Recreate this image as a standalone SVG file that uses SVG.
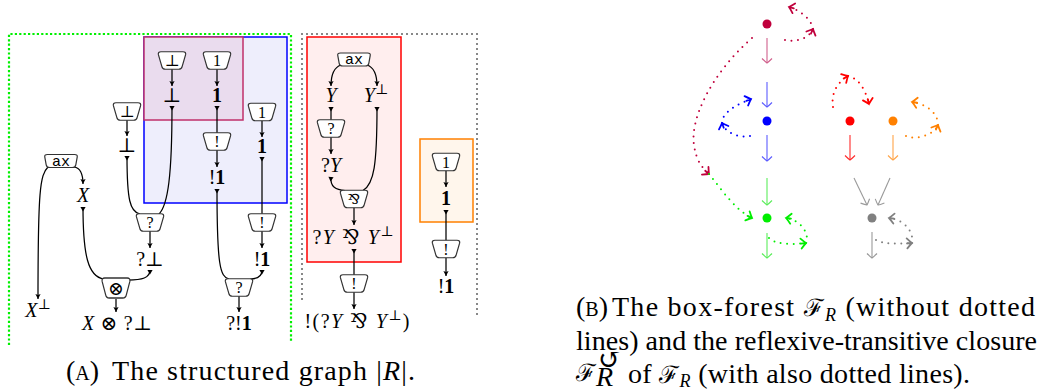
<svg xmlns="http://www.w3.org/2000/svg" width="1044" height="391" viewBox="0 0 1044 391">
<style>
.lab{font-family:"Liberation Serif","DejaVu Serif",serif;font-size:20px;text-anchor:middle;fill:#000}
.it{font-style:italic}
.bf{font-weight:bold}
.cell{fill:#fff;stroke:#333;stroke-width:1.2}
.in{font-family:"Liberation Serif","DejaVu Serif",serif;font-size:16px;text-anchor:middle}
.tt{font-family:"Liberation Mono","DejaVu Sans Mono",monospace;font-size:15px;text-anchor:middle}
.e{fill:none;stroke:#000;stroke-width:1.25}
.a{marker-end:url(#ah)}
.t{marker-start:url(#tl)}
.cap{font-family:"Liberation Serif","DejaVu Serif",serif;font-size:28px;fill:#000}
.sc{font-size:20px}
.fr{font-size:24px}
.dt{fill:none;stroke-width:2;stroke-linecap:round;stroke-dasharray:0 6.5}
.sl{fill:none;stroke-width:1.1}
</style>
<defs>
<path id="cellp" d="M-11,-8.75 H11 Q14.2,-8.75 13.6,-5.8 L10.2,5.8 Q9.6,8.75 6.6,8.75 H-6.6 Q-9.6,8.75 -10.2,5.8 L-13.6,-5.8 Q-14.2,-8.75 -11,-8.75 Z"/>
<path id="axp" d="M-13.5,-6.5 H13.5 Q16.8,-6.5 16.2,-3.8 L14.8,3.8 Q14.2,6.5 11.2,6.5 H-11.2 Q-14.2,6.5 -14.8,3.8 L-16.2,-3.8 Q-16.8,-6.5 -13.5,-6.5 Z"/>
<marker id="ah" viewBox="-6 -3 7 6" refX="0" refY="0" markerWidth="7" markerHeight="6" markerUnits="userSpaceOnUse" orient="auto"><path d="M-5,-2.6 L0,0 L-5,2.6 L-4,0 Z" fill="#000"/></marker>
<marker id="tl" viewBox="-1 -3 7 6" refX="0" refY="0" markerWidth="7" markerHeight="6" markerUnits="userSpaceOnUse" orient="auto"><path d="M0,-2.6 L4.5,0 L0,2.6 Z" fill="#000"/></marker>
<marker id="s-cr" viewBox="-6 -6 7 12" refX="0" refY="0" markerWidth="7" markerHeight="12" markerUnits="userSpaceOnUse" orient="auto"><path d="M-4.5,-5 Q-1,-1.5 0,0 Q-1,1.5 -4.5,5" fill="none" stroke="#d0608c" stroke-width="1.1"/></marker>
<marker id="s-bl" viewBox="-6 -6 7 12" refX="0" refY="0" markerWidth="7" markerHeight="12" markerUnits="userSpaceOnUse" orient="auto"><path d="M-4.5,-5 Q-1,-1.5 0,0 Q-1,1.5 -4.5,5" fill="none" stroke="#5c5cff" stroke-width="1.1"/></marker>
<marker id="s-gr" viewBox="-6 -6 7 12" refX="0" refY="0" markerWidth="7" markerHeight="12" markerUnits="userSpaceOnUse" orient="auto"><path d="M-4.5,-5 Q-1,-1.5 0,0 Q-1,1.5 -4.5,5" fill="none" stroke="#5ced5c" stroke-width="1.1"/></marker>
<marker id="s-rd" viewBox="-6 -6 7 12" refX="0" refY="0" markerWidth="7" markerHeight="12" markerUnits="userSpaceOnUse" orient="auto"><path d="M-4.5,-5 Q-1,-1.5 0,0 Q-1,1.5 -4.5,5" fill="none" stroke="#ff2a2a" stroke-width="1.1"/></marker>
<marker id="s-or" viewBox="-6 -6 7 12" refX="0" refY="0" markerWidth="7" markerHeight="12" markerUnits="userSpaceOnUse" orient="auto"><path d="M-4.5,-5 Q-1,-1.5 0,0 Q-1,1.5 -4.5,5" fill="none" stroke="#ffa448" stroke-width="1.1"/></marker>
<marker id="s-gy" viewBox="-6 -6 7 12" refX="0" refY="0" markerWidth="7" markerHeight="12" markerUnits="userSpaceOnUse" orient="auto"><path d="M-4.5,-5 Q-1,-1.5 0,0 Q-1,1.5 -4.5,5" fill="none" stroke="#9a9a9a" stroke-width="1.1"/></marker>
<marker id="d-cr" viewBox="-8 -7 10 14" refX="0" refY="0" markerWidth="10" markerHeight="14" markerUnits="userSpaceOnUse" orient="auto"><path d="M0,0 L-5,0 M-5,-5 Q-1.5,-1.2 0,0 Q-1.5,1.2 -5,5" fill="none" stroke="#c0003c" stroke-width="1.8" stroke-linecap="round"/></marker>
<marker id="d-bl" viewBox="-8 -7 10 14" refX="0" refY="0" markerWidth="10" markerHeight="14" markerUnits="userSpaceOnUse" orient="auto"><path d="M0,0 L-5,0 M-5,-5 Q-1.5,-1.2 0,0 Q-1.5,1.2 -5,5" fill="none" stroke="#0000ff" stroke-width="1.8" stroke-linecap="round"/></marker>
<marker id="d-gr" viewBox="-8 -7 10 14" refX="0" refY="0" markerWidth="10" markerHeight="14" markerUnits="userSpaceOnUse" orient="auto"><path d="M0,0 L-5,0 M-5,-5 Q-1.5,-1.2 0,0 Q-1.5,1.2 -5,5" fill="none" stroke="#00ee00" stroke-width="1.8" stroke-linecap="round"/></marker>
<marker id="d-rd" viewBox="-8 -7 10 14" refX="0" refY="0" markerWidth="10" markerHeight="14" markerUnits="userSpaceOnUse" orient="auto"><path d="M0,0 L-5,0 M-5,-5 Q-1.5,-1.2 0,0 Q-1.5,1.2 -5,5" fill="none" stroke="#ff0000" stroke-width="1.8" stroke-linecap="round"/></marker>
<marker id="d-or" viewBox="-8 -7 10 14" refX="0" refY="0" markerWidth="10" markerHeight="14" markerUnits="userSpaceOnUse" orient="auto"><path d="M0,0 L-5,0 M-5,-5 Q-1.5,-1.2 0,0 Q-1.5,1.2 -5,5" fill="none" stroke="#ff8000" stroke-width="1.8" stroke-linecap="round"/></marker>
<marker id="d-gy" viewBox="-8 -7 10 14" refX="0" refY="0" markerWidth="10" markerHeight="14" markerUnits="userSpaceOnUse" orient="auto"><path d="M0,0 L-5,0 M-5,-5 Q-1.5,-1.2 0,0 Q-1.5,1.2 -5,5" fill="none" stroke="#808080" stroke-width="1.8" stroke-linecap="round"/></marker>
</defs>
<rect width="1044" height="391" fill="#fff"/>

<!-- boxes -->
<g id="box-green"><path d="M9,345 V34 H291 V343" fill="none" stroke="#00f000" stroke-width="2.2" stroke-dasharray="2.2 2.2"/></g>
<g id="box-gray"><path d="M302,300 V34 H477 V315" fill="none" stroke="#888" stroke-width="2" stroke-dasharray="2 3"/></g>
<g id="box-blue"><rect x="144" y="37" width="143" height="166" fill="#eeeefc" stroke="#0000ff" stroke-width="1.5"/></g>
<g id="box-purple"><rect x="144" y="37" width="99" height="83" fill="#eadcee" stroke="#c0306a" stroke-width="1.5"/></g>
<g id="box-red"><rect x="307" y="37" width="94" height="225" fill="#ffeeee" stroke="#ff0000" stroke-width="1.5"/></g>
<g id="box-orange"><rect x="420" y="139" width="53" height="83" fill="#fff6ec" stroke="#ff8000" stroke-width="1.5"/></g>

<!-- connectors -->
<g id="connectors">
<path class="e a" d="M48,167 C40,175 38,190 38,299"/>
<path class="e a" d="M74,167 C81,168 83,174 83,184"/>
<path class="e t" d="M83,207 C83,255 88,277 104,279"/>
<path class="e t" d="M150,270 C150,278 142,280 128,280"/>
<path class="e a" d="M116,299 L116,312"/>
<path class="e a" d="M127,120 L127,136"/>
<path class="e t" d="M127,156 C127,200 130,212 140,214"/>
<path class="e t" d="M172,106 C172,175 168,205 159,214"/>
<path class="e a" d="M150,231 L150,248"/>
<path class="e a" d="M172,69 L172,86"/>
<path class="e a" d="M217,69 L217,86"/>
<path class="e t" d="M217,106 L217,133"/>
<path class="e a" d="M217,150 L217,167"/>
<path class="e t" d="M217,189 C217,265 220,277 229,279"/>
<path class="e a" d="M262,120.5 L262,137"/>
<path class="e t" d="M262,157 L262,214"/>
<path class="e a" d="M262,231 L262,248"/>
<path class="e t" d="M262,270 C262,277 257,279 250,279"/>
<path class="e a" d="M239,296 L239,312"/>
<path class="e a" d="M341,65 C335,67 331,73 331,86"/>
<path class="e a" d="M367,65 C373,67 377,73 377,86"/>
<path class="e t" d="M331,107 L331,120"/>
<path class="e a" d="M331,137 L331,154"/>
<path class="e t" d="M377,107 C377,165 374,184 363,190.5"/>
<path class="e t" d="M331,177 C330,187 336,190 345,190.5"/>
<path class="e a" d="M354,207.5 L354,225"/>
<path class="e t" d="M354,249 L354,275"/>
<path class="e a" d="M354,292 L354,309"/>
<path class="e a" d="M446,170.5 L446,187"/>
<path class="e t" d="M446,210 L446,240.5"/>
<path class="e a" d="M446,257.5 L446,276"/>
</g>

<!-- cells -->
<g id="n-axL"><use href="#axp" class="cell" x="61" y="161"/><text class="tt" x="61" y="165.5">ax</text></g>
<g id="n-botL"><use href="#cellp" class="cell" x="127" y="111.5"/><text class="in" x="127" y="117">⊥</text></g>
<g id="n-botP"><use href="#cellp" class="cell" x="172" y="60.5"/><text class="in" x="172" y="66">⊥</text></g>
<g id="n-oneP"><use href="#cellp" class="cell" x="217" y="60.5"/><text class="in" x="217" y="66">1</text></g>
<g id="n-bangB"><use href="#cellp" class="cell" x="217" y="141.5"/><text class="in" x="217" y="147">!</text></g>
<g id="n-oneB"><use href="#cellp" class="cell" x="262" y="112"/><text class="in" x="262" y="117.5">1</text></g>
<g id="n-whyL"><use href="#cellp" class="cell" x="150" y="222.5"/><text class="in" x="150" y="228">?</text></g>
<g id="n-tensor"><use href="#cellp" class="cell" transform="translate(116,288) scale(1.02,1.14)"/><text class="in" x="116" y="294.5" style="font-size:19px">⊗</text></g>
<g id="n-bangR"><use href="#cellp" class="cell" x="262" y="222.5"/><text class="in" x="262" y="228">!</text></g>
<g id="n-whyR"><use href="#cellp" class="cell" x="239" y="287.5"/><text class="in" x="239" y="293">?</text></g>
<g id="n-axR"><use href="#axp" class="cell" x="354" y="59.5"/><text class="tt" x="354" y="64">ax</text></g>
<g id="n-whyRed"><use href="#cellp" class="cell" x="331" y="128.5"/><text class="in" x="331" y="134">?</text></g>
<g id="n-par"><use href="#cellp" class="cell" x="354" y="199"/><text class="in" x="354" y="204" style="font-size:14px">⅋</text></g>
<g id="n-bangRed"><use href="#cellp" class="cell" x="354" y="283.5"/><text class="in" x="354" y="289">!</text></g>
<g id="n-oneO"><use href="#cellp" class="cell" x="446" y="162"/><text class="in" x="446" y="167.5">1</text></g>
<g id="n-bangO"><use href="#cellp" class="cell" x="446" y="249"/><text class="in" x="446" y="254.5">!</text></g>

<!-- formula labels -->
<g id="labels">
<text class="lab" x="38" y="317"><tspan class="it">X</tspan><tspan font-size="14" dy="-8">⊥</tspan></text>
<text class="lab it" x="83" y="202">X</text>
<text class="lab" x="150" y="266">?⊥</text>
<text class="lab" x="117" y="330" textLength="70"><tspan class="it">X</tspan> ⊗ ?⊥</text>
<text class="lab" x="127" y="152">⊥</text>
<text class="lab" x="172" y="102">⊥</text>
<text class="lab bf" x="217" y="102">1</text>
<text class="lab" x="217" y="184">!<tspan class="bf">1</tspan></text>
<text class="lab bf" x="262" y="153">1</text>
<text class="lab" x="262" y="266">!<tspan class="bf">1</tspan></text>
<text class="lab" x="239" y="330">?!<tspan class="bf">1</tspan></text>
<text class="lab it" x="331" y="102">Y</text>
<text class="lab" x="376" y="102"><tspan class="it">Y</tspan><tspan font-size="14" dy="-8">⊥</tspan></text>
<text class="lab" x="331" y="172">?<tspan class="it">Y</tspan></text>
<text class="lab" x="353" y="244" textLength="81">?<tspan class="it">Y</tspan> ⅋ <tspan class="it">Y</tspan><tspan font-size="14" dy="-8">⊥</tspan></text>
<text class="lab" x="357" y="328" textLength="105">!(?<tspan class="it">Y</tspan> ⅋ <tspan class="it">Y</tspan><tspan font-size="14" dy="-8">⊥</tspan><tspan dy="8">)</tspan></text>
<text class="lab bf" x="446" y="205">1</text>
<text class="lab" x="446" y="293">!<tspan class="bf">1</tspan></text>
</g>

<!-- box forest -->
<g id="forest-arrows">
<line class="sl" x1="767" y1="38" x2="767" y2="63" stroke="#d0608c" marker-end="url(#s-cr)"/>
<line class="sl" x1="767" y1="82" x2="767" y2="107" stroke="#5c5cff" marker-end="url(#s-bl)"/>
<line class="sl" x1="767" y1="135" x2="767" y2="161" stroke="#5c5cff" marker-end="url(#s-bl)"/>
<line class="sl" x1="767" y1="178" x2="767" y2="205" stroke="#5ced5c" marker-end="url(#s-gr)"/>
<line class="sl" x1="767" y1="233" x2="767" y2="258" stroke="#5ced5c" marker-end="url(#s-gr)"/>
<line class="sl" x1="850" y1="135" x2="850" y2="160" stroke="#ff2a2a" marker-end="url(#s-rd)"/>
<line class="sl" x1="893" y1="135" x2="893" y2="160" stroke="#ffa448" marker-end="url(#s-or)"/>
<line class="sl" x1="854" y1="178" x2="867" y2="205" stroke="#9a9a9a" marker-end="url(#s-gy)"/>
<line class="sl" x1="890" y1="178" x2="878" y2="205" stroke="#9a9a9a" marker-end="url(#s-gy)"/>
<line class="sl" x1="872" y1="232" x2="872" y2="258" stroke="#9a9a9a" marker-end="url(#s-gy)"/>
</g>
<g id="forest-dotted">
<path class="dt" stroke="#c0003c" marker-end="url(#d-cr)" d="M785,40 C795,42 808,40 813,29"/>
<path class="dt" stroke="#c0003c" marker-end="url(#d-cr)" d="M813,29 C812,20 800,10 789,7"/>
<path class="dt" stroke="#0000ff" marker-end="url(#d-bl)" d="M750,136 C740,138 726,134 722,123"/>
<path class="dt" stroke="#0000ff" marker-end="url(#d-bl)" d="M722,123 C722,112 738,104 751,99"/>
<path class="dt" stroke="#00ee00" marker-end="url(#d-gr)" d="M769,238 C775,244 790,245 806,243"/>
<path class="dt" stroke="#00ee00" marker-end="url(#d-gr)" d="M806,243 C810,233 800,220 786,218"/>
<path class="dt" stroke="#808080" marker-end="url(#d-gy)" d="M876,240 C882,244 898,244 912,243"/>
<path class="dt" stroke="#808080" marker-end="url(#d-gy)" d="M912,243 C914,232 905,220 889,218"/>
<path class="dt" stroke="#ff0000" marker-end="url(#d-rd)" d="M833,107 C831,95 836,83 848,76"/>
<path class="dt" stroke="#ff0000" marker-end="url(#d-rd)" d="M848,76 C858,78 865,88 869,104"/>
<path class="dt" stroke="#ff8000" marker-end="url(#d-or)" d="M906,136 C915,140 933,136 938,125"/>
<path class="dt" stroke="#ff8000" marker-end="url(#d-or)" d="M938,125 C938,112 925,104 912,102"/>
<path class="dt" stroke="#c0003c" marker-end="url(#d-cr)" d="M752,38 C710,75 690,120 694,145 C696,160 702,168 709,174"/>
<path class="dt" stroke="#00ee00" marker-end="url(#d-gr)" d="M709,174 C722,190 735,210 752,218"/>
</g>
<g id="b-crimson"><circle cx="767" cy="24" r="4.5" fill="#c0003c"/></g>
<g id="b-blue"><circle cx="767" cy="121" r="4.5" fill="#0000ff"/></g>
<g id="b-green"><circle cx="767" cy="218" r="4.5" fill="#00ee00"/></g>
<g id="b-red"><circle cx="850" cy="121" r="4.5" fill="#ff0000"/></g>
<g id="b-orange"><circle cx="893" cy="121" r="4.5" fill="#ff8000"/></g>
<g id="b-gray"><circle cx="872" cy="218" r="4.5" fill="#808080"/></g>

<!-- captions -->
<g id="caption-a">
<text class="cap" x="66" y="380">(<tspan class="sc">A</tspan>)</text>
<text class="cap" x="112" y="380" textLength="303">The structured graph |<tspan class="it">R</tspan>|.</text>
</g>
<g id="caption-b">
<text class="cap" x="576" y="316">(<tspan class="sc">B</tspan>)</text>
<text class="cap" x="612" y="316" textLength="423">The box-forest <tspan class="fr">ℱ</tspan><tspan class="it" font-size="18" dy="5">R</tspan><tspan dy="-5"> (without dotted</tspan></text>
<text class="cap" x="576" y="350" textLength="461">lines) and the reflexive-transitive closure</text>
<text class="cap fr" x="576" y="381">ℱ</text>
<text class="cap it" x="596" y="386" font-size="17">R</text>
<text class="cap" x="598" y="369" font-size="14">↺</text>
<text class="cap" x="628" y="383" textLength="342">of <tspan class="fr">ℱ</tspan><tspan class="it" font-size="18" dy="4">R</tspan><tspan dy="-4"> (with also dotted lines).</tspan></text>
</g>
</svg>
